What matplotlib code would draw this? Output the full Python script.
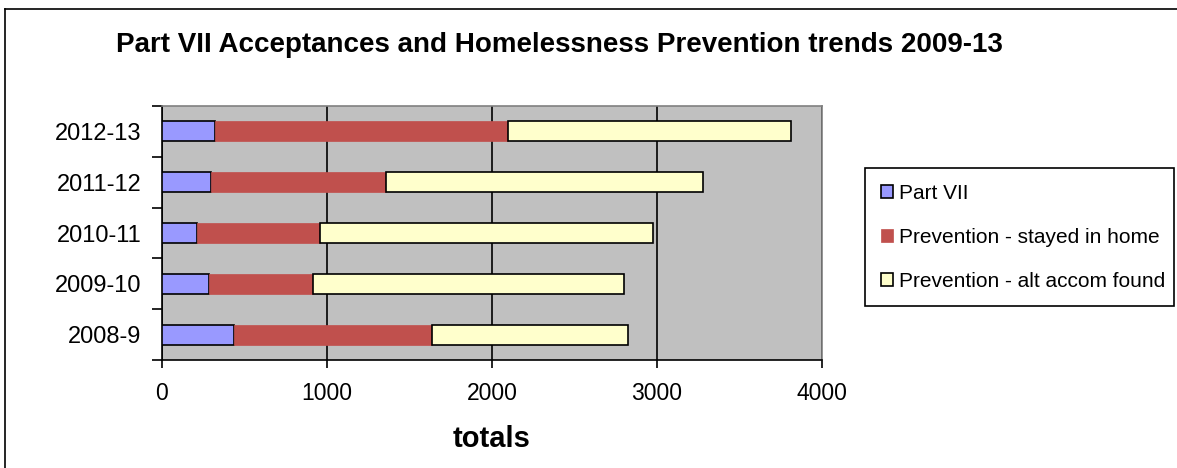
import numpy as np
import matplotlib
matplotlib.use('Agg')
import matplotlib.pyplot as plt
from matplotlib.lines import Line2D
from matplotlib.ticker import FixedLocator

plt.rcParams['font.family'] = ['Liberation Sans', 'DejaVu Sans']

# ---- data ----
years = ['2008-9', '2009-10', '2010-11', '2011-12', '2012-13']
part_vii = [434, 285, 211, 296, 322]
stayed_home = [1200, 633, 746, 1063, 1776]
alt_accom = [1191, 1885, 2019, 1922, 1717]
series_names = ['Part VII', 'Prevention - stayed in home', 'Prevention - alt accom found']
x_ticks = [0, 1000, 2000, 3000, 4000]

W, H = 1177, 468
fig = plt.figure(figsize=(W / 100, H / 100), dpi=100)
fig.patch.set_facecolor('white')

# outer chart border
fig.add_artist(Line2D([5 / W, 5 / W], [0, 1 - 9 / H], color='black', lw=1.2, transform=fig.transFigure))
fig.add_artist(Line2D([5 / W, 1], [1 - 9 / H, 1 - 9 / H], color='black', lw=1.2, transform=fig.transFigure))

ax = fig.add_axes([162 / W, 1 - 360 / H, (822 - 162) / W, (360 - 106) / H])
ax.set_facecolor('#C0C0C0')

y = np.arange(len(years))
left2 = np.array(part_vii)
left3 = left2 + np.array(stayed_home)
h = 0.39
b1 = ax.barh(y, part_vii, height=h, color='#9999FF', edgecolor='black', lw=1.2, label=series_names[0], zorder=3)
b2 = ax.barh(y, stayed_home, left=left2, height=h, color='#C0504D', edgecolor='#C0504D', lw=0.5, label=series_names[1], zorder=3)
b3 = ax.barh(y, alt_accom, left=left3, height=h, color='#FFFFCC', edgecolor='black', lw=1.2, label=series_names[2], zorder=3)

ax.set_xlim(0, 4000)
ax.set_ylim(-0.5, len(years) - 0.5)
ax.set_xticks(x_ticks)
ax.set_xticklabels([str(v) for v in x_ticks], fontsize=16.5)
ax.xaxis.grid(True, color='black', lw=1.2, zorder=1)
ax.set_axisbelow(True)

# category labels at centres, tick marks at boundaries
ax.set_yticks(y)
ax.set_yticklabels(years, fontsize=17)
ax.tick_params(axis='y', which='major', length=0, pad=15)
ax.yaxis.set_minor_locator(FixedLocator(np.arange(-0.5, len(years), 1.0)))
ax.tick_params(axis='y', which='minor', length=7, width=1.2)
ax.tick_params(axis='x', which='major', length=6, width=1.2, pad=10)

for s in ['top', 'right']:
    ax.spines[s].set_color('#808080')
    ax.spines[s].set_linewidth(1.2)
for s in ['left', 'bottom']:
    ax.spines[s].set_color('black')
    ax.spines[s].set_linewidth(1.2)

ax.set_xlabel('totals', fontsize=21, fontweight='bold', labelpad=14)

fig.text(116 / W, 1 - 45 / H, 'Part VII Acceptances and Homelessness Prevention trends 2009-13',
         fontsize=20, fontweight='bold', ha='left', va='center')

leg = ax.legend(handles=[b1, b2, b3], loc='upper left',
                bbox_to_anchor=(865 / W, 1 - 301 / H, (1174 - 865) / W, (301 - 168) / H),
                bbox_transform=fig.transFigure, mode='expand',
                fontsize=15, frameon=True, fancybox=False, framealpha=1,
                edgecolor='black', handlelength=0.6, handleheight=0.6, handletextpad=0.3,
                labelspacing=1.2, borderpad=0.75, borderaxespad=0)
leg.get_frame().set_linewidth(1.2)

fig.savefig('out.png', dpi=100)
